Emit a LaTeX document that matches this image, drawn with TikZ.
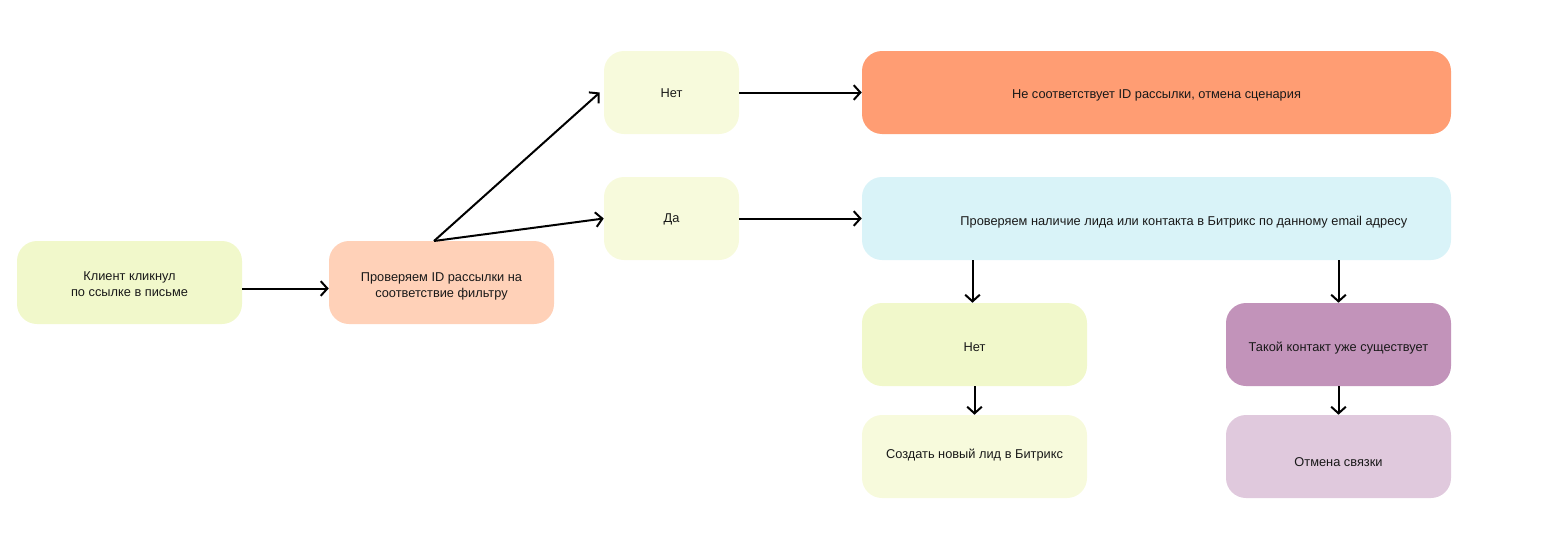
\documentclass[tikz,border=0pt]{standalone}
\usepackage{fontspec}
\setmainfont{Liberation Sans}
\usepackage{xcolor}
\usetikzlibrary{positioning,arrows.meta}
\definecolor{lime}{HTML}{F1F8CB}
\definecolor{pale}{HTML}{F7FADC}
\definecolor{peach}{HTML}{FFD1B8}
\definecolor{coral}{HTML}{FF9D73}
\definecolor{sky}{HTML}{D9F3F8}
\definecolor{plum}{HTML}{C293BA}
\definecolor{lilac}{HTML}{E0C9DD}
\newcommand{\nudge}[2]{\raisebox{#1}[\height][\depth]{#2}}

\begin{document}
\begin{tikzpicture}[
  x=0.75pt,y=-0.75pt,
  font=\fontsize{9.6}{12}\selectfont,
  box/.style={rounded corners=15pt,minimum height=62.25pt,align=center,inner sep=3pt,text=black!90},
  small/.style={box,minimum width=101.25pt},
  mid/.style={box,minimum width=168.75pt},
  wide/.style={box,minimum width=441.75pt},
  >={Straight Barb[length=5pt,width=11pt]},
  flow/.style={->,line width=1.5pt}
]
\useasboundingbox (0,0) rectangle (1564,550);

\node[mid,fill=lime]    (client) at (129.5,282.5)
  {\nudge{-1.5pt}{Клиент кликнул}\\\nudge{-1.5pt}{по ссылке в письме}};
\node[mid,fill=peach]   (check)  at (441.5,282.5)
  {\nudge{-3pt}{Проверяем ID рассылки на}\\\nudge{-3pt}{соответствие фильтру}};
\node[small,fill=pale]  (no1)    at (671.5,92.5)   {\nudge{-0.75pt}{Нет}};
\node[small,fill=pale]  (yes)    at (671.5,218.5)  {\nudge{-0.75pt}{Да}};
\node[wide,fill=coral]  (reject) at (1156.5,92.5)
  {\nudge{-2.25pt}{Не соответствует ID рассылки, отмена сценария}};
\node[wide,fill=sky]    (lookup) at (1156.5,218.5)
  {\hspace*{41pt}\nudge{-3pt}{Проверяем наличие лида или контакта в Битрикс по данному email адресу}};
\node[mid,fill=lime]    (no2)    at (974.5,344.5)  {\nudge{-2.25pt}{Нет}};
\node[mid,fill=plum]    (exists) at (1338.5,344.5) {\nudge{-3pt}{Такой контакт уже существует}};
\node[mid,fill=pale]    (create) at (974.5,456.5)  {\nudge{1.25pt}{Создать новый лид в Битрикс}};
\node[mid,fill=lilac]   (cancel) at (1338.5,456.5) {\nudge{-4pt}{Отмена связки}};

\coordinate (fork) at (434,241);
\draw[flow] ([yshift=-4.5pt]client.east) -- ([yshift=-4.5pt]check.west);
\draw[flow] (fork) -- ([xshift=-3pt]no1.west);
\draw[flow] (fork) -- (yes.west);
\draw[flow] (no1.east) -- (reject.west);
\draw[flow] (yes.east) -- (lookup.west);
\draw[flow] (lookup.south -| no2) ++(-2,0) -- ([xshift=-1.5pt]no2.north);
\draw[flow] (lookup.south -| exists) -- (exists.north);
\draw[flow] (no2.south) -- (create.north);
\draw[flow] (exists.south) -- (cancel.north);
\end{tikzpicture}
\end{document}
